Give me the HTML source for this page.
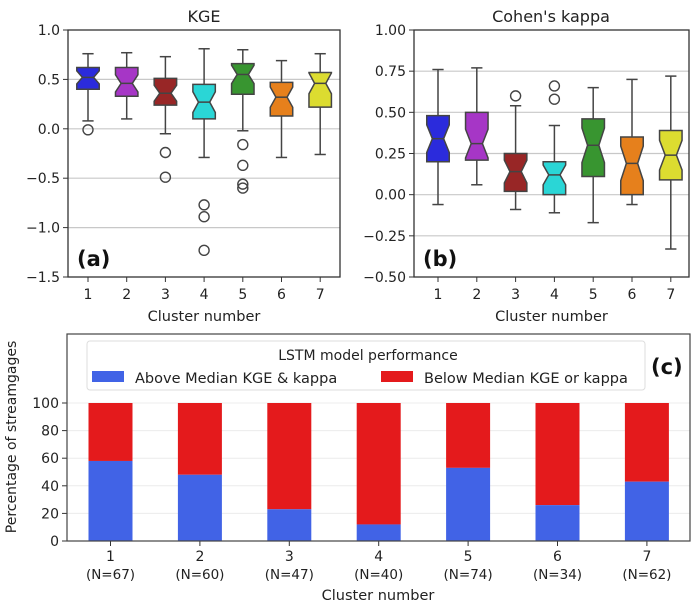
<!DOCTYPE html>
<html><head><meta charset="utf-8"><style>
body{margin:0;background:#fff;}
svg{display:block;font-family:"DejaVu Sans","Liberation Sans",sans-serif;}
</style></head><body>
<svg id="fig" width="692" height="603" viewBox="0 0 692 603">
<text x="204" y="22" font-size="16" text-anchor="middle" fill="#222">KGE</text>
<text x="551" y="22" font-size="16" text-anchor="middle" fill="#222">Cohen's kappa</text>
<g id="pa"></g>
<g id="pb"></g>
<g id="pc"></g>
</svg>
<script>
const clusters=["1","2","3","4","5","6","7"];
const colors=["#2b2bdc","#a636c6","#982626","#2ad6d6","#389530","#e6801c","#dcdc30"];
const kgeStats=[[0.08,0.40,0.52,0.62,0.76],[0.10,0.33,0.46,0.62,0.77],[-0.05,0.24,0.36,0.51,0.73],[-0.29,0.10,0.27,0.45,0.81],[-0.02,0.35,0.55,0.66,0.80],[-0.29,0.13,0.32,0.47,0.69],[-0.26,0.22,0.46,0.57,0.76]];
const kgeOutliers=[[-0.01],[],[-0.24,-0.49],[-0.77,-0.89,-1.23],[-0.16,-0.37,-0.56,-0.60],[],[]];
const kgeTicks=[1.0,0.5,0.0,-0.5,-1.0,-1.5];
const kgeTickLabels=["1.0","0.5","0.0","\u22120.5","\u22121.0","\u22121.5"];
const kappaStats=[[-0.06,0.20,0.34,0.48,0.76],[0.06,0.21,0.31,0.50,0.77],[-0.09,0.02,0.14,0.25,0.54],[-0.11,0.00,0.12,0.20,0.42],[-0.17,0.11,0.30,0.46,0.65],[-0.06,0.00,0.19,0.35,0.70],[-0.33,0.09,0.24,0.39,0.72]];
const kappaOutliers=[[],[],[0.60],[0.58,0.66],[],[],[]];
const kappaTicks=[1.0,0.75,0.5,0.25,0.0,-0.25,-0.5];
const kappaTickLabels=["1.00","0.75","0.50","0.25","0.00","\u22120.25","\u22120.50"];
const barLabels=["(N=67)","(N=60)","(N=47)","(N=40)","(N=74)","(N=34)","(N=62)"];
const abovePct=[58,48,23,12,53,26,43];
const barTicks=[0,20,40,60,80,100];

const NS="http://www.w3.org/2000/svg";
function mk(parent,tag,attrs,text){const e=document.createElementNS(NS,tag);for(const k in attrs)e.setAttribute(k,attrs[k]);if(text!==undefined)e.textContent=text;parent.appendChild(e);return e;}

function boxPanel(g,L,R,T,B,ymax,ymin,ticks,tlabels,stats,outs,x0,dx,tag,grid){
  const y=v=>T+(ymax-v)/(ymax-ymin)*(B-T);
  const x=i=>x0+i*dx;
  ticks.forEach((t,i)=>{
    if(grid.includes(t)){const l=mk(g,'line',{x1:L,x2:R,y1:y(t),y2:y(t),stroke:'#c8c8c8','stroke-width':1.2});
    }
    const tk=mk(g,'line',{x1:L-5,x2:L,y1:y(t),y2:y(t),stroke:'#333'});
    
    const tx=mk(g,'text',{x:L-8,y:y(t)+5,'font-size':14,'text-anchor':'end',fill:'#222'},tlabels[i]);
    
  });
  const w=dx*0.58;
  stats.forEach((s,i)=>{
    const cx=x(i),[lo,q1,md,q3,hi]=s;
    const wl=mk(g,'line',{x1:cx,x2:cx,y1:y(hi),y2:y(lo),stroke:'#444','stroke-width':1.5});
    
    [hi,lo].forEach(v=>{const c=mk(g,'line',{x1:cx-w/4,x2:cx+w/4,y1:y(v),y2:y(v),stroke:'#444','stroke-width':1.5});
      });
    const n=(q3-q1)*0.3;
    const nh=Math.min(q3,md+n),nl=Math.max(q1,md-n);
    const l=cx-w/2,r=cx+w/2,ni=w*0.25;
    const pts=[[l,y(q1)],[l,y(nl)],[l+ni,y(md)],[l,y(nh)],[l,y(q3)],[r,y(q3)],[r,y(nh)],[r-ni,y(md)],[r,y(nl)],[r,y(q1)]];
    const p=mk(g,'polygon',{points:pts.map(q=>q.join(',')).join(' '),fill:colors[i],stroke:'#444','stroke-width':1.5});
    
    const m=mk(g,'line',{x1:l+ni,x2:r-ni,y1:y(md),y2:y(md),stroke:'#444','stroke-width':1.5});
    
    outs[i].forEach(v=>{const o=mk(g,'circle',{cx:cx,cy:y(v),r:5,fill:'none',stroke:'#444','stroke-width':1.4});
      });
    const tk=mk(g,'line',{x1:cx,x2:cx,y1:B,y2:B+5,stroke:'#333'});
    
    const tl=mk(g,'text',{x:cx,y:B+22,'font-size':14,'text-anchor':'middle',fill:'#222'},clusters[i]);
    
  });
  const fr=mk(g,'rect',{x:L,y:T,width:R-L,height:B-T,fill:'none',stroke:'#333','stroke-width':1.3});
  
  const xt=mk(g,'text',{x:(L+R)/2,y:B+44,'font-size':14.5,'text-anchor':'middle',fill:'#222'},'Cluster number');
  
  const pl=mk(g,'text',{x:L+9,y:B-11,'font-size':21,'font-weight':'bold',fill:'#111'},'('+tag+')');
  
}
boxPanel(document.getElementById('pa'),68,340,30,277,1.0,-1.5,kgeTicks,kgeTickLabels,kgeStats,kgeOutliers,88,38.7,'a',[0.5,0.0,-0.5,-1.0]);
boxPanel(document.getElementById('pb'),414,689,30,277,1.0,-0.5,kappaTicks,kappaTickLabels,kappaStats,kappaOutliers,438,38.8,'b',[0.75,0.5,0.25,0.0,-0.25]);

(function(){
  const g=document.getElementById('pc');
  const L=67,R=690,T=334,B=541,top100=403;
  const y=v=>B-(v/100)*(B-top100);
  const x=i=>110.5+i*89.4;
  barTicks.forEach(t=>{
    const gl=mk(g,'line',{x1:L,x2:R,y1:y(t),y2:y(t),stroke:'#ececec','stroke-width':1});
    
    const tk=mk(g,'line',{x1:L-5,x2:L,y1:y(t),y2:y(t),stroke:'#333'});
    
    const tl=mk(g,'text',{x:L-8,y:y(t)+5,'font-size':14,'text-anchor':'end',fill:'#222'},String(t));
    
  });
  const bw=44;
  abovePct.forEach((v,i)=>{
    const cx=x(i);
    const rr=mk(g,'rect',{x:cx-bw/2,y:y(100),width:bw,height:y(v)-y(100),fill:'#e41a1c'});
    
    const rb=mk(g,'rect',{x:cx-bw/2,y:y(v),width:bw,height:y(0)-y(v),fill:'#4163e6'});
    
    const tk=mk(g,'line',{x1:cx,x2:cx,y1:B,y2:B+5,stroke:'#333'});
    
    const t1=mk(g,'text',{x:cx,y:B+20,'font-size':14,'text-anchor':'middle',fill:'#222'},clusters[i]);
    
    const t2=mk(g,'text',{x:cx,y:B+38,'font-size':13.5,'text-anchor':'middle',fill:'#222'},barLabels[i]);
    
  });
  const fr=mk(g,'rect',{x:L,y:T,width:R-L,height:B-T,fill:'none',stroke:'#444','stroke-width':1.2});
  
  const yt=mk(g,'text',{x:0,y:0,'font-size':14,'text-anchor':'middle',fill:'#222',transform:'translate(16,437) rotate(-90)'},'Percentage of streamgages');
  
  const xt=mk(g,'text',{x:378,y:600,'font-size':14.5,'text-anchor':'middle',fill:'#222'},'Cluster number');
  
  const lg=mk(g,'g',{});
  
  mk(lg,'rect',{x:87,y:341,width:558,height:49,rx:3,fill:'#fff',stroke:'#ddd','stroke-width':1});
  const lt=mk(lg,'text',{x:368,y:360,'font-size':14,'text-anchor':'middle',fill:'#222'},'LSTM model performance');
  
  const s1=mk(lg,'rect',{x:92,y:371,width:32,height:11,fill:'#4163e6'});
  
  const e1=mk(lg,'text',{x:135,y:383,'font-size':14.5,fill:'#222'},'Above Median KGE & kappa');
  
  const s2=mk(lg,'rect',{x:381,y:371,width:32,height:11,fill:'#e41a1c'});
  
  const e2=mk(lg,'text',{x:424,y:383,'font-size':14.5,fill:'#222'},'Below Median KGE or kappa');
  
  const pl=mk(g,'text',{x:651,y:374,'font-size':21,'font-weight':'bold',fill:'#111'},'(c)');
  
})();
</script>
</body></html>
